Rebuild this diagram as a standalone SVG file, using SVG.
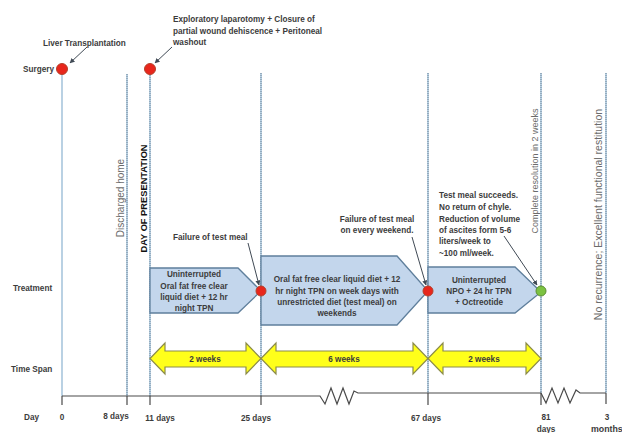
<svg xmlns="http://www.w3.org/2000/svg" width="622" height="433" viewBox="0 0 622 433">
<style>
.t{font-family:"Liberation Sans",Arial,sans-serif;font-size:8.2px;font-weight:bold;fill:#3c3c3c}
.c{text-anchor:middle}
.rot{font-family:"Liberation Sans",Arial,sans-serif;font-size:10px;fill:#6b6b6b;text-anchor:middle}
.vl{stroke:#a9c6dc;stroke-width:1.6;fill:none}
.vd{stroke:#55697a;stroke-width:0.7;stroke-dasharray:1 1;fill:none}
.box{fill:#c3d6ec;stroke:#5f7f9c;stroke-width:1.3}
.ya{fill:#ffff1a;stroke:#8c8c4a;stroke-width:1.2}
.axis{stroke:#4a4a4a;stroke-width:1.2;fill:none}
.call{stroke:#404a55;stroke-width:1;fill:none;marker-end:url(#ah)}
.red{fill:#e8261c;stroke:#b5402a;stroke-width:1}
.grn{fill:#7cc242;stroke:#5c8f33;stroke-width:1}
</style>
<defs>
<marker id="ah" viewBox="0 0 10 10" refX="9" refY="5" markerWidth="5" markerHeight="5" orient="auto">
<path d="M0,0 L10,5 L0,10 z" fill="#404a55"/>
</marker>
</defs>
<rect width="622" height="433" fill="#ffffff"/>

<g id="gridlines">
<path class="vl" d="M62 69V396M127 74V396M150 69V396M261 73V396M428 73V393M541 73V393M606 73V393"/>
<path class="vd" d="M127 74V396M150 69V396M261 73V396M428 73V393M541 73V393M606 73V393"/>
</g>

<g id="axis">
<path class="axis" d="M62 396H320L325 404L331 388L337 404L343 388L349 404L354 391L358 393H541L546 403L552 388L558 403L564 388L570 403L576 390L580 393H606"/>
<path class="axis" d="M62 396V405M127 396V405M150 396V405M261 396V405M428 393V405M541 393V405M606 393V404"/>
</g>

<g id="row-labels">
<text class="t" x="23" y="72">Surgery</text>
<text class="t" x="13" y="291">Treatment</text>
<text class="t" x="11" y="372">Time Span</text>
<text class="t" x="24" y="420">Day</text>
</g>

<g id="day-labels">
<text class="t c" x="62" y="420">0</text>
<text class="t c" x="116" y="419">8 days</text>
<text class="t c" x="160" y="421">11 days</text>
<text class="t c" x="256" y="421">25 days</text>
<text class="t c" x="426" y="421">67 days</text>
<text class="t c" x="546" y="420">81</text>
<text class="t c" x="546" y="432">days</text>
<text class="t c" x="607" y="420">3</text>
<text class="t" x="591" y="432" style="font-size:8.8px">months</text>
</g>

<g id="vertical-labels">
<text class="rot" transform="translate(124,198) rotate(-90)">Discharged home</text>
<text class="rot" transform="translate(146.5,198.5) rotate(-90)" style="font-weight:bold;fill:#111;font-size:9.3px">DAY OF PRESENTATION</text>
<text class="rot" transform="translate(538,171) rotate(-90)" style="font-size:9px">Complete resolution in 2 weeks</text>
<text class="rot" transform="translate(602,214.5) rotate(-90)" style="font-size:10.5px">No recurrence; Excellent functional restitution</text>
</g>

<g id="connectors">
<path class="call" d="M87 47L70 63"/>
<path class="call" d="M172 47L155 63"/>
<path class="call" d="M248 243L259 285"/>
<path class="call" d="M412 237L426 285"/>
<path class="call" d="M504 236L537 285"/>
</g>

<g id="callout-liver">
<text class="t" x="43" y="46">Liver Transplantation</text>
</g>
<g id="callout-laparotomy">
<text class="t" x="173" y="22">Exploratory laparotomy + Closure of</text>
<text class="t" x="173" y="34">partial wound dehiscence + Peritoneal</text>
<text class="t" x="173" y="45">washout</text>
</g>
<g id="callout-failure1">
<text class="t" x="173" y="240">Failure of test meal</text>
</g>
<g id="callout-failure2">
<text class="t c" x="377" y="222">Failure of test meal</text>
<text class="t c" x="377" y="233">on every weekend.</text>
</g>
<g id="callout-success">
<text class="t" x="439" y="198">Test meal succeeds.</text>
<text class="t" x="439" y="210">No return of chyle.</text>
<text class="t" x="439" y="222">Reduction of volume</text>
<text class="t" x="439" y="233">of ascites form 5-6</text>
<text class="t" x="439" y="244">liters/week to</text>
<text class="t" x="439" y="256">~100 ml/week.</text>
</g>

<g id="box1">
<path class="box" d="M150 268H238L261 291L238 313H150Z"/>
<text class="t c" x="194" y="277">Uninterrupted</text>
<text class="t c" x="194" y="288.5">Oral fat free clear</text>
<text class="t c" x="194" y="300">liquid diet + 12 hr</text>
<text class="t c" x="194" y="311">night TPN</text>
</g>
<g id="box2">
<path class="box" d="M261 256H397L428 291L397 325H261Z"/>
<text class="t c" x="337" y="282">Oral fat free clear liquid diet + 12</text>
<text class="t c" x="337" y="294">hr night TPN on week days with</text>
<text class="t c" x="337" y="305">unrestricted diet (test meal) on</text>
<text class="t c" x="337" y="316">weekends</text>
</g>
<g id="box3">
<path class="box" d="M428 267H515L541 292L515 313H428Z"/>
<text class="t c" x="479" y="283">Uninterrupted</text>
<text class="t c" x="479" y="294">NPO + 24 hr TPN</text>
<text class="t c" x="479" y="305">+ Octreotide</text>
</g>

<g id="dots">
<circle class="red" cx="62" cy="69" r="5.5"/>
<circle class="red" cx="150" cy="69" r="5.5"/>
<circle class="red" cx="261" cy="291" r="5"/>
<circle class="red" cx="428" cy="291" r="5"/>
<circle class="grn" cx="541" cy="291" r="5"/>
</g>

<g id="span1">
<path class="ya" d="M150 358.5L165 343V351H246V343L261 358.5L246 374V367H165V374Z"/>
<text class="t c" x="205" y="361.5">2 weeks</text>
</g>
<g id="span2">
<path class="ya" d="M261 358.5L276 343V351H413V343L428 358.5L413 374V367H276V374Z"/>
<text class="t c" x="344" y="361.5">6 weeks</text>
</g>
<g id="span3">
<path class="ya" d="M428 358.5L443 343V351H526V343L541 358.5L526 374V367H443V374Z"/>
<text class="t c" x="484" y="361.5">2 weeks</text>
</g>
</svg>
